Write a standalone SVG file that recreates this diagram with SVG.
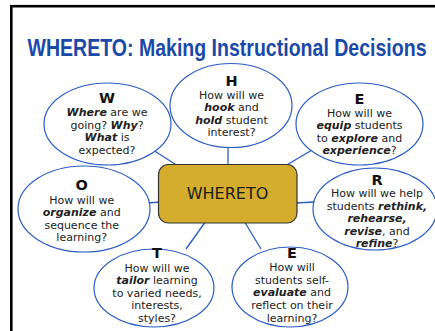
<svg xmlns="http://www.w3.org/2000/svg" width="435" height="331" viewBox="0 0 435 331">
<style>
.bg{fill:#fff}
.frame{fill:none;stroke:#000;stroke-width:2.6}
.title{font-family:"Liberation Sans",Arial,sans-serif;font-weight:bold;font-size:23px;fill:#1a49a8}
.ell{fill:#fff;stroke:#2a5cc2;stroke-width:1.2}
.con{stroke:#2a5cc2;stroke-width:1.3;fill:none}
.box{fill:#d4ad2f;stroke:#333;stroke-width:1.2}
.boxt{font-family:"DejaVu Sans",Verdana,sans-serif;font-size:16px;fill:#1a1a1a;text-anchor:middle}
.hd{font-family:"DejaVu Sans",Verdana,sans-serif;font-weight:bold;font-size:14.5px;fill:#111;text-anchor:middle}
.tx{font-family:"DejaVu Sans",Verdana,sans-serif;font-size:11px;fill:#222;text-anchor:middle}
.b{font-weight:bold;font-style:italic}
</style>
<rect class="bg" x="0" y="0" width="435" height="331"/>
<rect class="frame" x="11.3" y="6.2" width="440" height="340"/>
<g transform="translate(227 56) scale(0.85 1)">
<text class="title" x="0" y="0" text-anchor="middle">WHERETO: Making Instructional Decisions</text>
</g>
<g id="connectors">
<line class="con" x1="153" y1="150" x2="178" y2="166"/>
<line class="con" x1="228" y1="146" x2="228" y2="166"/>
<line class="con" x1="312" y1="150" x2="285" y2="166"/>
<line class="con" x1="148" y1="203" x2="160" y2="202"/>
<line class="con" x1="295" y1="203" x2="315" y2="202"/>
<line class="con" x1="186" y1="249" x2="206" y2="221"/>
<line class="con" x1="261" y1="249" x2="244" y2="221"/>
</g>
<g id="node-W">
<ellipse class="ell" cx="107.5" cy="124" rx="63.5" ry="41"/>
<text class="hd" x="107" y="102.5">W</text>
<text class="tx" x="107" y="116">
<tspan class="b">Where</tspan> are we</text>
<text class="tx" x="107" y="128.5">going? <tspan class="b">Why</tspan>?</text>
<text class="tx" x="107" y="141">
<tspan class="b">What</tspan> is</text>
<text class="tx" x="107" y="153.5">expected?</text>
</g>
<g id="node-H">
<ellipse class="ell" cx="231" cy="105.5" rx="61" ry="42"/>
<text class="hd" x="231.5" y="86">H</text>
<text class="tx" x="231.5" y="99">How will we</text>
<text class="tx" x="231.5" y="111.3"><tspan class="b">hook</tspan> and</text>
<text class="tx" x="231.5" y="123.6"><tspan class="b">hold</tspan> student</text>
<text class="tx" x="231.5" y="136">interest?</text>
</g>
<g id="node-E1">
<ellipse class="ell" cx="359.5" cy="124" rx="63.5" ry="41"/>
<text class="hd" x="359.5" y="104">E</text>
<text class="tx" x="359.5" y="116.7">How will we</text>
<text class="tx" x="359.5" y="129.2"><tspan class="b">equip</tspan> students</text>
<text class="tx" x="359.5" y="141.7">to <tspan class="b">explore</tspan> and</text>
<text class="tx" x="359.5" y="154.2"><tspan class="b">experience</tspan>?</text>
</g>
<g id="node-O">
<ellipse class="ell" cx="84" cy="209" rx="66" ry="43"/>
<text class="hd" x="81.7" y="190">O</text>
<text class="tx" x="81.7" y="204">How will we</text>
<text class="tx" x="81.7" y="216.3"><tspan class="b">organize</tspan> and</text>
<text class="tx" x="81.7" y="228.7">sequence the</text>
<text class="tx" x="81.7" y="241">learning?</text>
</g>
<g id="node-R">
<ellipse class="ell" cx="375" cy="209" rx="62" ry="41"/>
<text class="hd" x="377" y="185">R</text>
<text class="tx" x="377" y="197.3">How will we help</text>
<text class="tx" x="377" y="209.7">students <tspan class="b">rethink,</tspan></text>
<text class="tx" x="377" y="222.1"><tspan class="b">rehearse,</tspan></text>
<text class="tx" x="377" y="234.5"><tspan class="b">revise</tspan>, and</text>
<text class="tx" x="377" y="246.9"><tspan class="b">refine</tspan>?</text>
</g>
<g id="node-T">
<ellipse class="ell" cx="154" cy="288" rx="60" ry="39"/>
<text class="hd" x="157" y="258.3">T</text>
<text class="tx" x="157" y="271.5">How will we</text>
<text class="tx" x="157" y="284">
<tspan class="b">tailor</tspan> learning</text>
<text class="tx" x="157" y="296.5">to varied needs,</text>
<text class="tx" x="157" y="309">interests,</text>
<text class="tx" x="157" y="321.5">styles?</text>
</g>
<g id="node-E2">
<ellipse class="ell" cx="290" cy="287" rx="58" ry="40"/>
<text class="hd" x="292" y="258.3">E</text>
<text class="tx" x="292" y="271">How will</text>
<text class="tx" x="292" y="283.7">students self-</text>
<text class="tx" x="292" y="296.4"><tspan class="b">evaluate</tspan> and</text>
<text class="tx" x="292" y="309.1">reflect on their</text>
<text class="tx" x="292" y="321.8">learning?</text>
</g>
<g id="node-center">
<rect class="box" x="158.5" y="164.5" width="138.5" height="58.5" rx="10" ry="10"/>
<text class="boxt" x="227.5" y="199">WHERETO</text>
</g>
</svg>
